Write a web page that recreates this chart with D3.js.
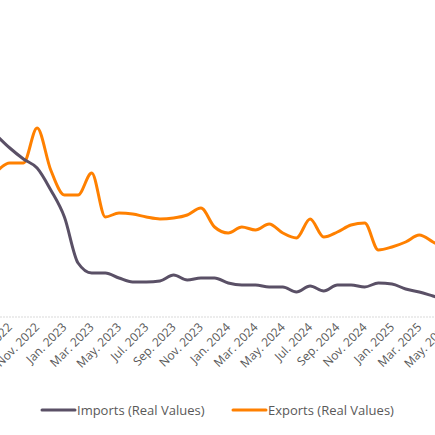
<!DOCTYPE html><html><head><meta charset="utf-8">
<script src="https://cdn.jsdelivr.net/npm/d3@7/dist/d3.min.js"></script>
<style>body{margin:0;background:#fff}</style></head><body>
<svg id="c" width="435" height="435"></svg>
<script>
const months=["Aug. 2022","Sep. 2022","Oct. 2022","Nov. 2022","Dec. 2022","Jan. 2023","Feb. 2023","Mar. 2023","Apr. 2023","May. 2023","Jun. 2023","Jul. 2023","Aug. 2023","Sep. 2023","Oct. 2023","Nov. 2023","Dec. 2023","Jan. 2024","Feb. 2024","Mar. 2024","Apr. 2024","May. 2024","Jun. 2024","Jul. 2024","Aug. 2024","Sep. 2024","Oct. 2024","Nov. 2024","Dec. 2024","Jan. 2025","Feb. 2025","Mar. 2025","Apr. 2025","May. 2025"];
const imports=[18.2,16.9,15.8,14.9,12.7,10.0,5.4,4.4,4.4,3.9,3.5,3.5,3.6,4.2,3.7,3.9,3.9,3.4,3.2,3.2,3.0,3.0,2.5,3.1,2.6,3.2,3.2,3.0,3.4,3.3,2.8,2.5,2.1,1.7];
const exportsV=[14.5,15.4,15.4,18.9,14.7,12.2,12.2,14.4,10.0,10.4,10.3,10.0,9.8,9.9,10.2,10.9,9.0,8.4,9.0,8.7,9.3,8.4,7.9,9.8,8.0,8.5,9.2,9.4,6.7,7.0,7.5,8.2,7.5,6.7];
const svg=d3.select("#c");
const x=d3.scaleLinear().domain([5,6]).range([64.4,78.05]);
const y=d3.scaleLinear().domain([0,30]).range([317,17]);
svg.append("line").attr("x1",0).attr("x2",435).attr("y1",y(0)).attr("y2",y(0)).attr("stroke","#d9d9d9").attr("stroke-dasharray","2,1");
const g=svg.append("g");
months.forEach((m,i)=>{ if(i%2===1){
  g.append("text").attr("transform",`translate(${x(i)+3},${y(0)+11}) rotate(-45)`).attr("text-anchor","end")
   .attr("font-family","Open Sans, sans-serif").attr("font-size",12).attr("fill","#595959").text(m);}});
const line=d3.line().x((d,i)=>x(i)).y(d=>y(d)).curve(d3.curveMonotoneX);
svg.append("path").datum(exportsV).attr("d",line).attr("fill","none").attr("stroke","#ff8000").attr("stroke-width",3);
svg.append("path").datum(imports).attr("d",line).attr("fill","none").attr("stroke","#5a5066").attr("stroke-width",3);
const lg=[["Imports (Real Values)","#5a5066",42],["Exports (Real Values)","#ff8000",233]];
lg.forEach(([t,c,lx])=>{
 svg.append("line").attr("x1",lx).attr("x2",lx+33).attr("y1",410).attr("y2",410).attr("stroke",c).attr("stroke-width",3).attr("stroke-linecap","round");
 svg.append("text").attr("x",lx+35).attr("y",414.5).attr("font-family","Open Sans, sans-serif").attr("font-size",13).attr("fill","#595959").text(t);
});
</script></body></html>
